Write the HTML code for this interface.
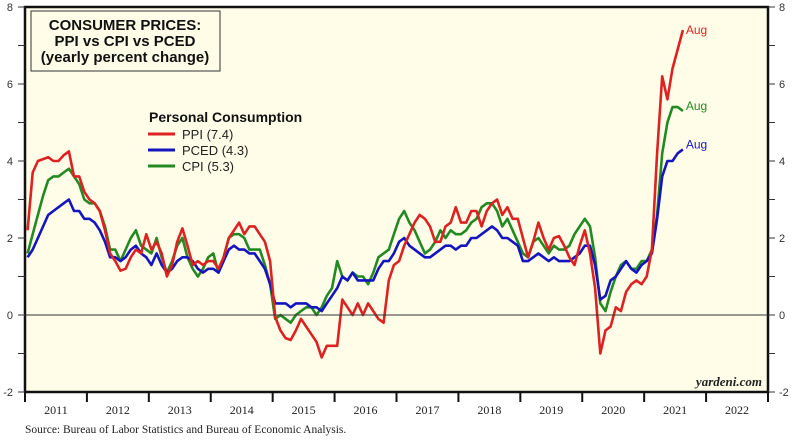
<!DOCTYPE html>
<html><head><meta charset="utf-8"><style>
html,body{margin:0;padding:0;background:#fff;}
svg{display:block;font-family:"Liberation Sans",sans-serif;}
</style></head><body>
<svg id="chart" width="800" height="447" viewBox="0 0 800 447">
<rect x="25" y="7" width="743" height="385" fill="#fffde8"/>
<g id="axes"></g>
<g id="series"></g>
<line id="zeroline" x1="25" x2="768" stroke="#333" stroke-width="1"/>
<rect x="31" y="11" width="189" height="60" fill="#fffde8" stroke="#333" stroke-width="1"/>
<text x="125" y="30" text-anchor="middle" font-size="15" font-weight="bold" fill="#111"><tspan x="125">CONSUMER PRICES:</tspan><tspan x="125" dy="16">PPI vs CPI vs PCED</tspan><tspan x="125" dy="16">(yearly percent change)</tspan></text>
<text x="149" y="122" font-size="14" font-weight="bold" fill="#111">Personal Consumption</text>
<g><line x1="148" x2="175" y1="134" y2="134" stroke="#dd2222" stroke-width="3"/><text x="182" y="139" font-size="13" fill="#222">PPI (7.4)</text></g>
<g><line x1="148" x2="175" y1="150" y2="150" stroke="#1515c0" stroke-width="3"/><text x="182" y="155" font-size="13" fill="#222">PCED (4.3)</text></g>
<g><line x1="148" x2="175" y1="166" y2="166" stroke="#238a23" stroke-width="3"/><text x="182" y="171" font-size="13" fill="#222">CPI (5.3)</text></g>
<text x="762" y="386" text-anchor="end" font-family="Liberation Serif,serif" font-style="italic" font-weight="bold" font-size="13" fill="#222">yardeni.com</text>
<text x="25" y="433" font-family="Liberation Serif,serif" font-size="11.5" fill="#222">Source: Bureau of Labor Statistics and Bureau of Economic Analysis.</text>
</svg>
<script>
const years=[2011,2012,2013,2014,2015,2016,2017,2018,2019,2020,2021,2022];
const yTicks=[-2,0,2,4,6,8];
const ppi=[2.2,3.7,4.0,4.05,4.1,4.0,4.0,4.15,4.25,3.6,3.6,3.2,
3.0,2.9,2.7,2.2,1.6,1.4,1.15,1.2,1.5,1.7,1.6,2.1,
1.7,1.9,1.6,1.0,1.3,1.9,2.25,1.8,1.3,1.4,1.3,1.4,
1.4,1.2,1.5,2.0,2.2,2.4,2.1,2.3,2.3,2.1,1.9,1.4,
-0.05,-0.4,-0.6,-0.65,-0.4,-0.1,-0.3,-0.5,-0.7,-1.1,-0.8,-0.8,
-0.8,0.4,0.2,0.0,0.3,0.0,0.3,0.1,-0.1,-0.2,0.9,1.3,
1.4,1.8,2.1,2.4,2.6,2.5,2.3,1.9,1.9,2.3,2.4,2.8,
2.4,2.4,2.7,2.7,2.3,2.7,2.9,3.0,2.6,2.8,2.5,2.5,
2.0,1.5,1.9,2.4,2.0,1.7,2.0,2.05,1.8,1.5,1.3,1.8,
2.2,1.6,0.7,-1.0,-0.4,-0.3,0.2,0.1,0.6,0.8,0.9,0.8,
1.0,1.7,4.2,6.2,5.6,6.4,6.9,7.4];
const cpi=[1.6,2.1,2.6,3.1,3.5,3.6,3.6,3.7,3.8,3.6,3.4,3.0,
2.9,2.9,2.7,2.3,1.7,1.7,1.4,1.7,2.0,2.2,1.8,1.7,
1.6,2.0,1.5,1.1,1.4,1.8,2.0,1.5,1.2,1.0,1.2,1.5,
1.6,1.1,1.5,2.0,2.1,2.1,2.0,1.7,1.7,1.7,1.3,0.8,
-0.1,0.0,-0.1,-0.2,0.0,0.1,0.2,0.2,0.0,0.2,0.5,0.7,
1.4,1.0,0.9,1.1,1.0,1.0,0.8,1.1,1.5,1.6,1.7,2.1,
2.5,2.7,2.4,2.2,1.9,1.6,1.7,1.9,2.2,2.0,2.2,2.1,
2.1,2.2,2.4,2.5,2.8,2.9,2.9,2.7,2.3,2.5,2.2,1.9,
1.6,1.5,1.9,2.0,1.8,1.6,1.8,1.7,1.7,1.8,2.1,2.3,
2.5,2.3,1.5,0.3,0.1,0.6,1.0,1.3,1.4,1.2,1.2,1.4,
1.4,1.7,2.6,4.2,5.0,5.4,5.4,5.3];
const pced=[1.5,1.7,2.0,2.3,2.6,2.7,2.8,2.9,3.0,2.7,2.7,2.5,
2.5,2.4,2.2,1.9,1.5,1.5,1.4,1.5,1.7,1.8,1.6,1.5,
1.3,1.6,1.3,1.1,1.2,1.4,1.5,1.5,1.4,1.2,1.1,1.2,
1.2,1.1,1.4,1.7,1.8,1.7,1.7,1.6,1.6,1.4,1.2,0.8,
0.3,0.3,0.3,0.2,0.3,0.3,0.3,0.2,0.2,0.1,0.3,0.5,
0.7,1.0,0.9,1.1,0.9,0.9,0.9,0.9,1.2,1.4,1.4,1.6,
1.9,2.0,1.8,1.7,1.6,1.5,1.5,1.6,1.7,1.8,1.8,1.7,
1.8,1.8,2.0,2.0,2.1,2.2,2.3,2.2,2.0,2.0,1.9,1.8,
1.4,1.4,1.5,1.6,1.5,1.4,1.5,1.4,1.4,1.4,1.5,1.6,
1.8,1.8,1.3,0.4,0.5,0.9,1.0,1.2,1.4,1.2,1.1,1.3,
1.4,1.6,2.5,3.6,4.0,4.0,4.2,4.3];
const NS="http://www.w3.org/2000/svg";
const X0=25,X1=768,Y0=392,Y1=7,T0=2011,T1=2023,V0=-2,V1=8;
function xs(t){return X0+(t-T0)/(T1-T0)*(X1-X0);}
function ys(v){return Y0-(v-V0)/(V1-V0)*(Y0-Y1);}
function mk(tag,attrs,parent){const e=document.createElementNS(NS,tag);for(const k in attrs)e.setAttribute(k,attrs[k]);parent.appendChild(e);return e;}
const ax=document.getElementById('axes');
document.getElementById('zeroline').setAttribute('y1',ys(0));
document.getElementById('zeroline').setAttribute('y2',ys(0));
let e;
e=mk('path',{d:`M${X0},${Y0}V${Y1}H${X1}V${Y0}H${X0}`,fill:'none',stroke:'#111','stroke-width':2.5},ax);


for(let v=V0;v<=V1;v++){
  const y=ys(v),len=7;
  e=mk('line',{x1:X0-len,x2:X0,y1:y,y2:y,stroke:'#333','stroke-width':1},ax);
  
  
  e=mk('line',{x1:X1,x2:X1+len,y1:y,y2:y,stroke:'#333','stroke-width':1},ax);
  
  
}
yTicks.forEach(v=>{
  const y=ys(v)+4;
  e=mk('text',{x:13,y:y,'text-anchor':'end','font-size':11,fill:'#333'},ax);e.textContent=v;
  
  
  e=mk('text',{x:779,y:y,'font-size':11,fill:'#333'},ax);e.textContent=v;
  
  
});
years.forEach((yr,i)=>{
  e=mk('line',{x1:xs(yr),x2:xs(yr),y1:Y0,y2:Y0+10,stroke:'#111','stroke-width':2},ax);
  
  
  e=mk('text',{x:xs(yr+0.5),y:414,'text-anchor':'middle','font-family':'Liberation Serif,serif','font-size':12,fill:'#222'},ax);
  e.textContent=yr;
  
  
});
e=mk('line',{x1:X1,x2:X1,y1:Y0,y2:Y0+10,stroke:'#111','stroke-width':2},ax);


const sg=document.getElementById('series');
function draw(arr,color,name,lblY){
  const pts=arr.map((v,i)=>xs(T0+(i+0.5)/12).toFixed(1)+','+ys(v).toFixed(1));
  e=mk('polyline',{points:pts.join(' '),fill:'none',stroke:color,'stroke-width':2.6,'stroke-linejoin':'round'},sg);
  
  
  const last=arr.length-1;
  e=mk('text',{x:xs(T0+(last+0.5)/12)+3,y:ys(arr[last])+lblY,'font-size':12,fill:color},sg);
  e.textContent='Aug';
  
  
}
draw(cpi,'#238a23','cpi',-1);
draw(pced,'#1515c0','pced',-1);
draw(ppi,'#dd2222','ppi',4);
</script>
</body></html>
